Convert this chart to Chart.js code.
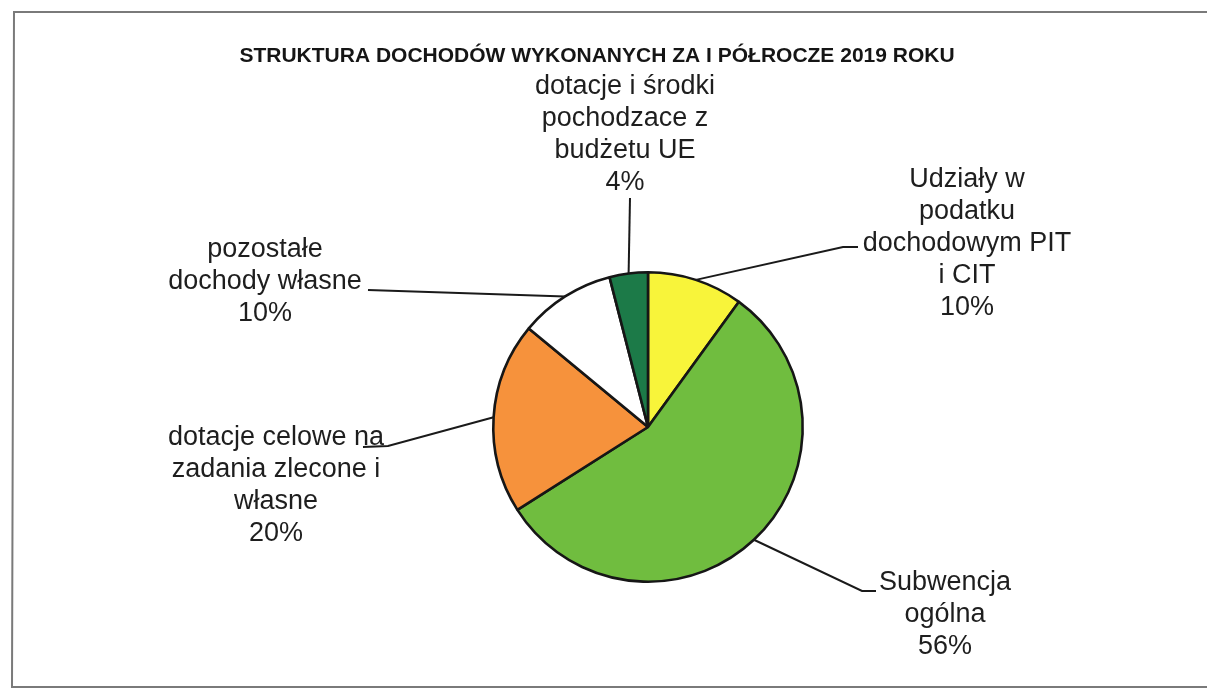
<!DOCTYPE html>
<html lang="pl">
<head>
    <meta charset="UTF-8">
    <title>Struktura dochodów</title>
    <script src="https://cdn.jsdelivr.net/npm/chart.js"></script>
    <style>
        html, body { margin: 0; padding: 0; background: #fff; }
        #wrap { width: 1207px; height: 690px; position: relative; }
    </style>
</head>
<body>
    <div id="wrap"><canvas id="pieChart"></canvas></div>

    <script>
        // data
        let chartTitle = 'STRUKTURA DOCHODÓW WYKONANYCH ZA I PÓŁROCZE 2019 ROKU';
        let categories = [
            'Udziały w podatku dochodowym PIT i CIT',
            'Subwencja ogólna',
            'dotacje celowe na zadania zlecone i własne',
            'pozostałe dochody własne',
            'dotacje i środki pochodzace z budżetu UE'
        ];
        let labelLines = [
            ['Udziały w', 'podatku', 'dochodowym PIT', 'i CIT'],
            ['Subwencja', 'ogólna'],
            ['dotacje celowe na', 'zadania zlecone i', 'własne'],
            ['pozostałe', 'dochody własne'],
            ['dotacje i środki', 'pochodzace z', 'budżetu UE']
        ];
        let shares = [10, 56, 20, 10, 4];
        let sliceColors = ['#f8f43a', '#70bd3f', '#f6923c', '#ffffff', '#1c7a48'];

        // where each label sits and where its leader line meets it
        let labelPlaces = [
            { cx: 967, top: 180, bend: [843, 247], stub: [858, 247] },
            { cx: 945, top: 583, bend: [862, 591], stub: [876, 591] },
            { cx: 276, top: 438, bend: [388, 446], stub: [363, 447] },
            { cx: 265, top: 250, bend: [368, 290], stub: null },
            { cx: 625, top: 87,  bend: [630, 198], stub: null }
        ];
        let lineStep = 32;

        let pieLabels = {
            id: 'pieLabels',
            afterDatasetsDraw(chart) {
                let ctx = chart.ctx;
                let arcs = chart.getDatasetMeta(0).data;
                ctx.save();

                // frame around the chart
                ctx.strokeStyle = '#7a7a7a';
                ctx.lineWidth = 2;
                ctx.beginPath();
                ctx.moveTo(1207, 12);
                ctx.lineTo(14, 12);
                ctx.lineTo(12, 687);
                ctx.lineTo(1207, 687);
                ctx.stroke();

                // title
                ctx.fillStyle = '#151515';
                ctx.font = 'bold 21px "Liberation Sans", Arial, sans-serif';
                ctx.textAlign = 'center';
                ctx.textBaseline = 'middle';
                ctx.fillText(chartTitle, 597, 56);

                ctx.font = '27px "Liberation Sans", Arial, sans-serif';
                arcs.forEach((arc, i) => {
                    let p = arc.getProps(['x', 'y', 'startAngle', 'endAngle', 'outerRadius'], true);
                    let mid = (p.startAngle + p.endAngle) / 2;
                    let ex = p.x + Math.cos(mid) * p.outerRadius;
                    let ey = p.y + Math.sin(mid) * p.outerRadius;
                    let place = labelPlaces[i];

                    ctx.strokeStyle = '#1a1a1a';
                    ctx.lineWidth = 2;
                    ctx.beginPath();
                    ctx.moveTo(ex, ey);
                    ctx.lineTo(place.bend[0], place.bend[1]);
                    if (place.stub) ctx.lineTo(place.stub[0], place.stub[1]);
                    ctx.stroke();

                    let lines = labelLines[i].concat([shares[i] + '%']);
                    ctx.fillStyle = '#1e1e1e';
                    lines.forEach((t, k) => {
                        ctx.fillText(t, place.cx, place.top + k * lineStep);
                    });
                });
                ctx.restore();
            }
        };

        let ctx = document.getElementById('pieChart').getContext('2d');
        let pieChart = new Chart(ctx, {
            type: 'pie',
            data: {
                labels: categories,
                datasets: [{
                    data: shares,
                    backgroundColor: sliceColors,
                    borderColor: '#161616',
                    borderWidth: 2.6
                }]
            },
            options: {
                responsive: true,
                maintainAspectRatio: false,
                animation: false,
                layout: {
                    padding: { top: 271, bottom: 107, left: 492, right: 403 }
                },
                plugins: {
                    legend: { display: false },
                    tooltip: { enabled: false },
                    title: { display: false }
                }
            },
            plugins: [pieLabels]
        });
    </script>
</body>
</html>
